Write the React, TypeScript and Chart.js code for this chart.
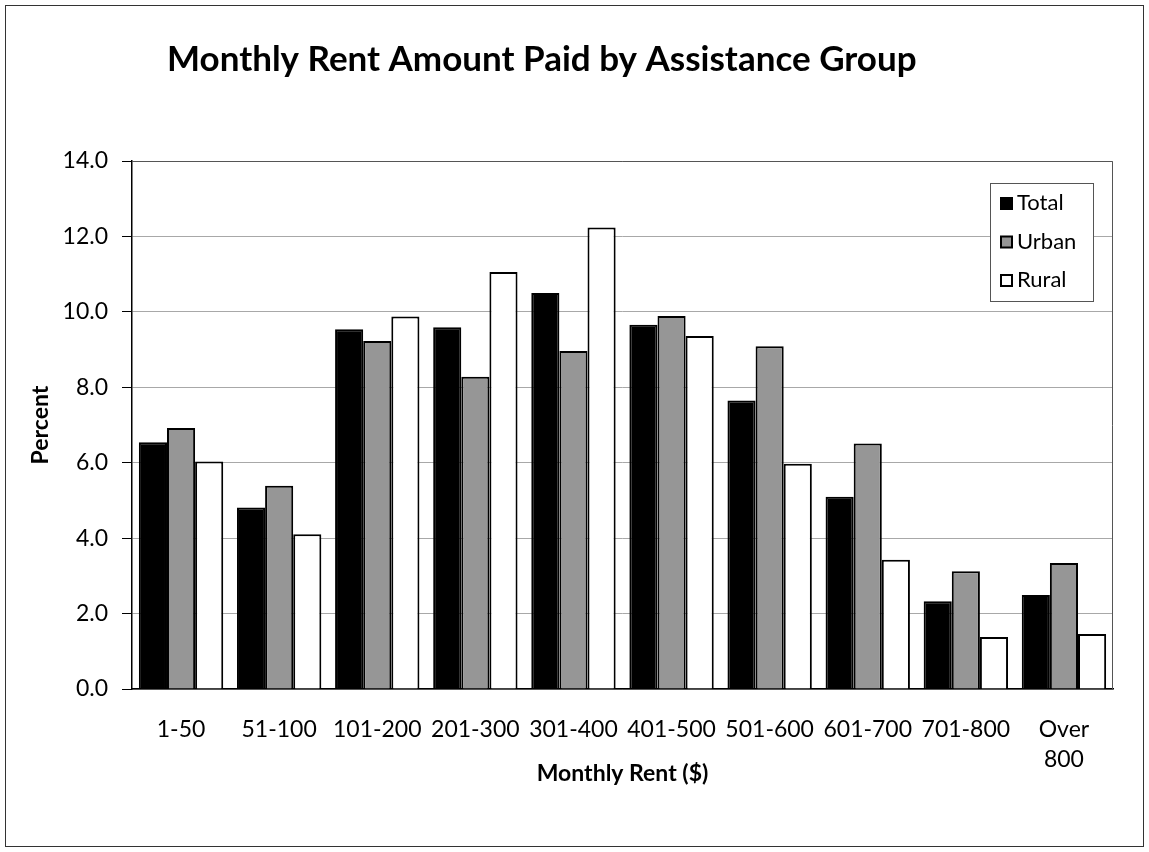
import React, { useEffect, useRef } from "react";
import { Chart, registerables } from "chart.js";

Chart.register(...registerables);

const categories: (string | string[])[] = ["1-50", "51-100", "101-200", "201-300", "301-400", "401-500", "501-600", "601-700", "701-800", ["Over", "800"]];
const totalValues = [6.54, 4.81, 9.54, 9.59, 10.5, 9.66, 7.65, 5.1, 2.33, 2.49];
const urbanValues = [6.92, 5.39, 9.23, 8.28, 8.96, 9.89, 9.09, 6.51, 3.12, 3.34];
const ruralValues = [6.03, 4.1, 9.88, 11.06, 12.24, 9.36, 5.97, 3.43, 1.38, 1.46];
const seriesNames = ["Total", "Urban", "Rural"];
const titleText = "Monthly Rent Amount Paid by Assistance Group";
const xTitle = "Monthly Rent ($)";
const yTitle = "Percent";

const FONT = "Lato, 'Open Sans', sans-serif";

const framePlugin = {
  id: "frame",
  afterDraw(chart: any) {
    const ctx = chart.ctx;
    const { left, right, top, bottom } = chart.chartArea;
    ctx.save();
    // outer frame
    ctx.strokeStyle = "#333";
    ctx.lineWidth = 1;
    ctx.strokeRect(5.5, 5.5, chart.width - 11, chart.height - 11);
    // plot border top/right
    ctx.strokeStyle = "#555";
    ctx.beginPath();
    ctx.moveTo(left, top + 0.5);
    ctx.lineTo(right - 0.5, top + 0.5);
    ctx.lineTo(right - 0.5, bottom);
    ctx.stroke();
    // title
    ctx.fillStyle = "#000";
    ctx.font = `bold 35px ${FONT}`;
    ctx.textBaseline = "alphabetic";
    ctx.textAlign = "left";
    ctx.fillText(titleText, 167, 71);
    // legend
    const lx = 990, ly = 183, lw = 103, lh = 118;
    ctx.fillStyle = "#fff";
    ctx.fillRect(lx, ly, lw, lh);
    ctx.strokeStyle = "#555";
    ctx.lineWidth = 1;
    ctx.strokeRect(lx + 0.5, ly + 0.5, lw, lh);
    chart.data.datasets.forEach((ds: any, i: number) => {
      const cy = ly + 20 + i * 38.5;
      ctx.fillStyle = ds.backgroundColor;
      ctx.fillRect(lx + 11, cy - 5, 11, 11);
      ctx.strokeStyle = "#000";
      ctx.lineWidth = 2;
      ctx.strokeRect(lx + 11, cy - 5, 11, 11);
      ctx.fillStyle = "#000";
      ctx.font = `22px ${FONT}`;
      ctx.textBaseline = "middle";
      ctx.fillText(ds.label, lx + 27, cy);
    });
    ctx.restore();
  },
};

export default function App() {
  const ref = useRef<HTMLCanvasElement>(null);
  useEffect(() => {
    document.body.style.margin = "0";
    const colors = ["#000000", "#969696", "#ffffff"];
    const data = [totalValues, urbanValues, ruralValues];
    const chart = new Chart(ref.current!, {
      type: "bar",
      data: {
        labels: categories,
        datasets: seriesNames.map((n, i) => ({
          label: n,
          data: data[i],
          backgroundColor: colors[i],
          borderColor: "#000",
          borderWidth: 2,
          borderSkipped: "bottom",
          barPercentage: 1,
          categoryPercentage: 0.86,
        })),
      },
      options: {
        animation: false,
        responsive: false,
        maintainAspectRatio: false,
        layout: { padding: { left: 0, right: 36, top: 161, bottom: 0 } },
        plugins: { legend: { display: false }, title: { display: false }, tooltip: { enabled: false } },
        scales: {
          x: {
            grid: { display: false, drawTicks: false, tickLength: 0 },
            border: { color: "#000", width: 1.5 },
            ticks: { color: "#000", font: { family: FONT, size: 23, lineHeight: "30px" }, padding: 26, maxRotation: 0, autoSkip: false },
            title: { display: true, text: xTitle, color: "#000", font: { family: FONT, size: 23, weight: "bold" }, padding: { top: 0, bottom: 65 } },
            afterFit(scale: any) { scale.height = 163; },
          },
          y: {
            min: 0,
            max: 14,
            ticks: { stepSize: 2, color: "#000", font: { family: FONT, size: 23 }, padding: 14, callback: (v: any) => Number(v).toFixed(1) },
            grid: { color: "#a8a8a8", lineWidth: 1, tickLength: 10, tickColor: "#000" },
            border: { color: "#000", width: 1.5 },
            title: { display: true, text: yTitle, color: "#000", font: { family: FONT, size: 23, weight: "bold" }, padding: { top: 27, bottom: 0 } },
            afterFit(scale: any) { scale.width = 132; },
          },
        },
      },
      plugins: [framePlugin],
    });
    return () => chart.destroy();
  }, []);
  return (
    <div style={{ width: 1149, height: 852 }}>
      <canvas ref={ref} width={1149} height={852} style={{ display: "block" }} />
    </div>
  );
}
